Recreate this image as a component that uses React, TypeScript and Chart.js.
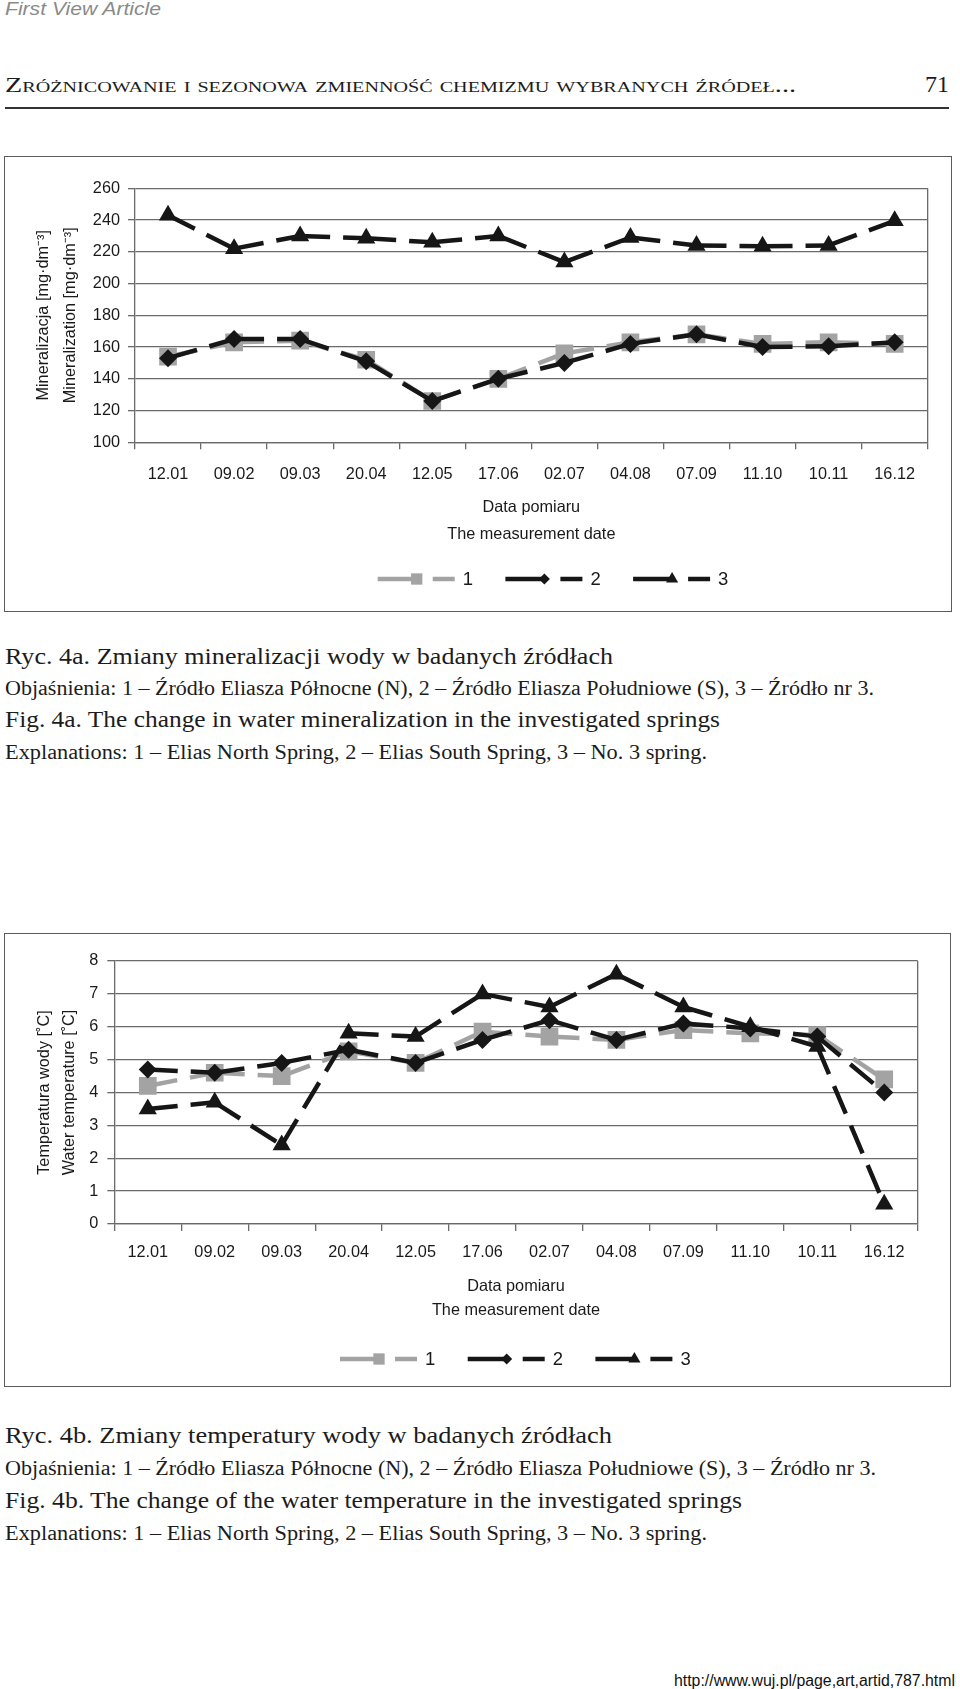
import React, { useEffect, useLayoutEffect, useRef } from 'react';
import { Chart, registerables } from 'chart.js';
import { drawPoint } from 'chart.js/helpers';

Chart.register(...registerables);

// ---------- data ----------
const dates = ['12.01', '09.02', '09.03', '20.04', '12.05', '17.06', '02.07', '04.08', '07.09', '11.10', '10.11', '16.12'];
const seriesNames = ['1', '2', '3'];

const mineralS1 = [154, 163, 164, 152, 126, 140, 156, 163, 168, 162, 163, 162];
const mineralS2 = [153, 165, 165, 151, 126, 140, 150, 162, 168, 160, 160.5, 163];
const mineralS3 = [243, 222, 230, 228.5, 226, 230, 213.5, 229, 224, 223.5, 224, 239.5];

const tempS1 = [4.2, 4.6, 4.5, 5.25, 4.9, 5.85, 5.7, 5.6, 5.9, 5.8, 5.75, 4.4];
const tempS2 = [4.7, 4.6, 4.9, 5.3, 4.9, 5.6, 6.2, 5.6, 6.1, 5.95, 5.7, 4.0];
const tempS3 = [3.5, 3.7, 2.4, 5.8, 5.7, 7.0, 6.6, 7.6, 6.6, 6.0, 5.4, 0.6];

const mineralYTitle = ['Mineralizacja [mg·dm⁻³]', 'Mineralization [mg·dm⁻³]'];
const tempYTitle = ['Temperatura wody [˚C]', 'Water temperature [˚C]'];
const xTitle = ['Data pomiaru', 'The measurement date'];

// ---------- fonts ----------
function fontAvailable(name: string): boolean {
  try {
    const ctx = document.createElement('canvas').getContext('2d')!;
    const sample = 'Mineralizacja 0123456789 WwMm';
    ctx.font = '40px monospace';
    const a = ctx.measureText(sample).width;
    ctx.font = `40px "${name}", monospace`;
    const b = ctx.measureText(sample).width;
    return Math.abs(a - b) > 0.5;
  } catch {
    return false;
  }
}
const NARROW = fontAvailable('Liberation Sans Narrow');
const SANS_CHART = NARROW ? '"Liberation Sans Narrow", "Liberation Sans", Arial, sans-serif' : '"Liberation Sans", Arial, sans-serif';
const fsz = (n: number) => (NARROW ? n : n * 0.88);
const SERIF = '"Liberation Serif", "Times New Roman", serif';
const SANS = '"Liberation Sans", Arial, sans-serif';

const GRAY = '#a3a3a3';
const BLACK = '#161616';
const GRID = '#6a6a6a';
const TEXT = '#1a1a1a';

const styles = [
  { color: GRAY, pointStyle: 'rect', radius: 12.5, legendRadius: 8, order: 3 },
  { color: BLACK, pointStyle: 'rectRot', radius: 9, legendRadius: 5.5, order: 2 },
  { color: BLACK, pointStyle: 'triangle', radius: 10.5, legendRadius: 7, order: 1 },
];

// ---------- legend plugin ----------
const customLegend = {
  id: 'customLegend',
  afterDraw(chart: any, _args: any, opts: any) {
    const { ctx } = chart;
    const { x0, y, spacing } = opts;
    chart.data.datasets.forEach((d: any, i: number) => {
      const st = styles[i];
      const bx = x0 + i * spacing;
      ctx.save();
      ctx.strokeStyle = st.color;
      ctx.fillStyle = st.color;
      ctx.lineWidth = 4.5;
      ctx.beginPath();
      ctx.moveTo(bx, y);
      ctx.lineTo(bx + 39, y);
      ctx.stroke();
      ctx.beginPath();
      ctx.moveTo(bx + 55, y);
      ctx.lineTo(bx + 77, y);
      ctx.stroke();
      drawPoint(ctx, { pointStyle: st.pointStyle, radius: st.legendRadius, rotation: 0, borderWidth: 0 } as any, bx + 39, y);
      ctx.fillStyle = TEXT;
      ctx.font = `${fsz(21)}px ${SANS_CHART}`;
      ctx.textBaseline = 'middle';
      ctx.textAlign = 'left';
      ctx.fillText(d.label, bx + 85, y + 1);
      ctx.restore();
    });
  },
};

type Spec = {
  box: { left: number; top: number; width: number; height: number };
  series: number[][];
  y: { min: number; max: number; step: number; width: number; tickPad: number; title: string[]; titleLH: number; titlePadTop: number };
  x: { height: number; tickPad: number; titleLH: number; titlePadBottom: number };
  pad: { top: number; right: number; bottom: number };
  legend: { x0: number; y: number };
};

function buildConfig(spec: Spec): any {
  const tickFont = { family: SANS_CHART, size: fsz(18.5) };
  return {
    type: 'line',
    data: {
      labels: dates,
      datasets: spec.series.map((data, i) => ({
        label: seriesNames[i],
        data,
        borderColor: styles[i].color,
        backgroundColor: styles[i].color,
        pointBackgroundColor: styles[i].color,
        pointBorderColor: styles[i].color,
        pointBorderWidth: 0,
        pointStyle: styles[i].pointStyle,
        pointRadius: styles[i].radius,
        borderWidth: 4.5,
        borderDash: [30, 13],
        borderCapStyle: 'butt',
        tension: 0,
        fill: false,
        order: styles[i].order,
        segment: { borderDashOffset: (c: any) => (c.p0DataIndex % 2 ? 0.01 : 0) },
      })),
    },
    options: {
      animation: false,
      responsive: false,
      maintainAspectRatio: false,
      events: [],
      layout: { padding: { left: 0, right: spec.pad.right, top: spec.pad.top, bottom: spec.pad.bottom } },
      plugins: {
        legend: { display: false },
        tooltip: { enabled: false },
        customLegend: { x0: spec.legend.x0, y: spec.legend.y, spacing: 127.7 },
      },
      scales: {
        x: {
          offset: true,
          grid: {
            offset: true,
            drawOnChartArea: true,
            color: (c: any) => (c.index === undefined ? GRID : 'rgba(0,0,0,0)'),
            tickColor: GRID,
            tickLength: 7,
            lineWidth: 1.3,
          },
          border: { display: true, color: GRID, width: 1.3 },
          ticks: { color: TEXT, font: tickFont, padding: spec.x.tickPad, maxRotation: 0, autoSkip: false },
          title: {
            display: true,
            text: xTitle,
            color: TEXT,
            font: { family: SANS_CHART, size: fsz(18.5), lineHeight: `${spec.x.titleLH}px` },
            padding: { top: 0, bottom: spec.x.titlePadBottom },
          },
          afterFit: (s: any) => {
            s.height = spec.x.height;
          },
        },
        y: {
          min: spec.y.min,
          max: spec.y.max,
          ticks: { stepSize: spec.y.step, color: TEXT, font: tickFont, padding: spec.y.tickPad },
          grid: { color: GRID, tickColor: GRID, tickLength: 7, lineWidth: 1.3 },
          border: { display: true, color: GRID, width: 1.3 },
          title: {
            display: true,
            text: spec.y.title,
            color: TEXT,
            font: { family: SANS_CHART, size: fsz(18.5), lineHeight: `${spec.y.titleLH}px` },
            padding: { top: spec.y.titlePadTop, bottom: 0 },
          },
          afterFit: (s: any) => {
            s.width = spec.y.width;
          },
        },
      },
    },
    plugins: [customLegend],
  };
}

function LineChart({ spec }: { spec: Spec }) {
  const ref = useRef<HTMLCanvasElement>(null);
  useEffect(() => {
    const chart = new Chart(ref.current!, buildConfig(spec));
    return () => chart.destroy();
  }, [spec]);
  const { left, top, width, height } = spec.box;
  return (
    <div
      style={{
        position: 'absolute',
        left,
        top,
        width,
        height,
        boxSizing: 'border-box',
        border: '1.5px solid #5c5c5c',
      }}
    >
      <canvas
        ref={ref}
        width={width}
        height={height}
        style={{ position: 'absolute', left: -1.5, top: -1.5, width, height }}
      />
    </div>
  );
}

// ---------- text ----------
type FitProps = {
  text: string;
  left: number;
  baseline: number;
  width: number;
  size: number;
  family: string;
  ascent: number;
  color?: string;
  italic?: boolean;
  smallCaps?: boolean;
};

function FitText({ text, left, baseline, width, size, family, ascent, color = '#1c1c1c', italic, smallCaps }: FitProps) {
  const ref = useRef<HTMLSpanElement>(null);
  useLayoutEffect(() => {
    const el = ref.current;
    if (!el) return;
    el.style.transform = 'none';
    const w = el.getBoundingClientRect().width;
    if (w > 0) el.style.transform = `scaleX(${width / w})`;
  }, [text, width, size]);
  return (
    <span
      ref={ref}
      style={{
        position: 'absolute',
        left,
        top: baseline - size * ascent,
        fontFamily: family,
        fontSize: size,
        lineHeight: `${size}px`,
        whiteSpace: 'nowrap',
        color,
        fontStyle: italic ? 'italic' : 'normal',
        fontVariant: smallCaps ? 'small-caps' : 'normal',
        transformOrigin: '0 0',
        display: 'inline-block',
      }}
    >
      {text}
    </span>
  );
}

const SERIF_ASC = 0.8375;
const SANS_ASC = 0.8465;

const spec1: Spec = {
  box: { left: 4, top: 156, width: 948, height: 456 },
  series: [mineralS1, mineralS2, mineralS3],
  y: { min: 100, max: 260, step: 20, width: 131, tickPad: 8, title: mineralYTitle, titleLH: 27.3, titlePadTop: 25.6 },
  x: { height: 129.7, tickPad: 15.4, titleLH: 27, titlePadBottom: 23.5 },
  pad: { top: 32.3, right: 24.3, bottom: 40 },
  legend: { x0: 373.7, y: 423 },
};

const spec2: Spec = {
  box: { left: 4, top: 933, width: 947, height: 454 },
  series: [tempS1, tempS2, tempS3],
  y: { min: 0, max: 8, step: 1, width: 110.3, tickPad: 9, title: tempYTitle, titleLH: 24.3, titlePadTop: 28.8 },
  x: { height: 123, tickPad: 11.4, titleLH: 24.7, titlePadBottom: 23.9 },
  pad: { top: 28, right: 33.3, bottom: 40 },
  legend: { x0: 336, y: 426 },
};

export default function App() {
  useEffect(() => {
    document.body.style.margin = '0';
  }, []);
  return (
    <div style={{ position: 'absolute', left: 0, top: 0, width: 960, height: 1689, overflow: 'hidden', background: '#fff' }}>
      <FitText text="First View Article" left={5} baseline={15} width={156} size={18} family={SANS} ascent={SANS_ASC} color="#8a8a8a" italic />
      <FitText
        text="Zróżnicowanie i sezonowa zmienność chemizmu wybranych źródeł..."
        left={5}
        baseline={92.5}
        width={791}
        size={21}
        family={SERIF}
        ascent={SERIF_ASC}
        smallCaps
      />
      <FitText text="71" left={925} baseline={92.5} width={24} size={23} family={SERIF} ascent={SERIF_ASC} />
      <div style={{ position: 'absolute', left: 5, top: 107, width: 944, height: 2, background: '#333' }} />

      <LineChart spec={spec1} />

      <FitText text="Ryc. 4a. Zmiany mineralizacji wody w badanych źródłach" left={5} baseline={664.5} width={608} size={23.5} family={SERIF} ascent={SERIF_ASC} />
      <FitText
        text="Objaśnienia: 1 – Źródło Eliasza Północne (N), 2 – Źródło Eliasza Południowe (S), 3 – Źródło nr 3."
        left={5}
        baseline={694.5}
        width={869}
        size={20}
        family={SERIF}
        ascent={SERIF_ASC}
      />
      <FitText text="Fig. 4a. The change in water mineralization in the investigated springs" left={5} baseline={728} width={715} size={23.5} family={SERIF} ascent={SERIF_ASC} />
      <FitText text="Explanations: 1 – Elias North Spring, 2 – Elias South Spring, 3 – No. 3 spring." left={5} baseline={758.5} width={702} size={20} family={SERIF} ascent={SERIF_ASC} />

      <LineChart spec={spec2} />

      <FitText text="Ryc. 4b. Zmiany temperatury wody w badanych źródłach" left={5} baseline={1444} width={607} size={23.5} family={SERIF} ascent={SERIF_ASC} />
      <FitText
        text="Objaśnienia: 1 – Źródło Eliasza Północne (N), 2 – Źródło Eliasza Południowe (S), 3 – Źródło nr 3."
        left={5}
        baseline={1475}
        width={871}
        size={20}
        family={SERIF}
        ascent={SERIF_ASC}
      />
      <FitText text="Fig. 4b. The change of the water temperature in the investigated springs" left={5} baseline={1508.5} width={737} size={23.5} family={SERIF} ascent={SERIF_ASC} />
      <FitText text="Explanations: 1 – Elias North Spring, 2 – Elias South Spring, 3 – No. 3 spring." left={5} baseline={1539.5} width={702} size={20} family={SERIF} ascent={SERIF_ASC} />

      <FitText text="http://www.wuj.pl/page,art,artid,787.html" left={674} baseline={1686.5} width={281} size={16} family={SANS} ascent={SANS_ASC} color="#111" />
    </div>
  );
}
